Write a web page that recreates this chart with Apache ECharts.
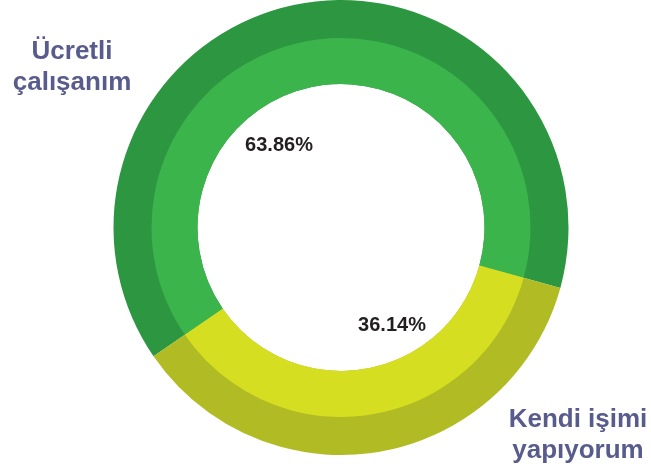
<!DOCTYPE html>
<html><head><meta charset="utf-8">
<script src="https://cdn.jsdelivr.net/npm/echarts@6/dist/echarts.min.js"></script>
<style>html,body{margin:0;padding:0;background:#fff}#c{width:651px;height:475px}</style>
</head><body><div id="c"></div>
<script>
const categories = ['Ücretli\nçalışanım', 'Kendi işimi\nyapıyorum'];
const values = [63.86, 36.14];

const outerColors = ['#2D9641', '#B1BB23'];
const innerColors = ['#3BB44B', '#D6DE21'];
const nameLabelPos = [[72, 67], [578, 435]];
const pctLabelPos = [[279, 145], [392, 325]];
const center = [341, 227.5];
const startAngle = 214.5;

const chart = echarts.init(document.getElementById('c'), null, {renderer: 'canvas'});
const mk = (cols) => categories.map((n, i) => ({name: n, value: values[i], itemStyle: {color: cols[i]}}));

chart.setOption({
  animation: false,
  backgroundColor: '#ffffff',
  series: [
    {
      type: 'pie', center: center, radius: [143.5, 227.5], startAngle: startAngle, clockwise: true,
      avoidLabelOverlap: false, silent: true,
      itemStyle: {borderWidth: 0},
      emphasis: {disabled: true},
      label: {
        show: true, position: 'outside', formatter: '{b}',
        fontFamily: 'Liberation Sans, Arial, sans-serif', fontWeight: 'bold', fontSize: 26,
        lineHeight: 31, color: '#585C8C', align: 'center'
      },
      labelLine: {show: false},
      labelLayout: (p) => ({x: nameLabelPos[p.dataIndex][0], y: nameLabelPos[p.dataIndex][1], align: 'center', verticalAlign: 'middle'}),
      data: mk(outerColors)
    },
    {
      type: 'pie', center: center, radius: [143.5, 189.5], startAngle: startAngle, clockwise: true,
      avoidLabelOverlap: false, silent: true,
      itemStyle: {borderWidth: 0},
      emphasis: {disabled: true},
      label: {
        show: true, position: 'inside',
        formatter: (p) => p.value.toFixed(2) + '%',
        fontFamily: 'Liberation Sans, Arial, sans-serif', fontWeight: 'bold', fontSize: 20,
        color: '#231F20'
      },
      labelLine: {show: false},
      labelLayout: (p) => ({x: pctLabelPos[p.dataIndex][0], y: pctLabelPos[p.dataIndex][1], align: 'center', verticalAlign: 'middle'}),
      data: mk(innerColors)
    }
  ]
});
</script></body></html>
